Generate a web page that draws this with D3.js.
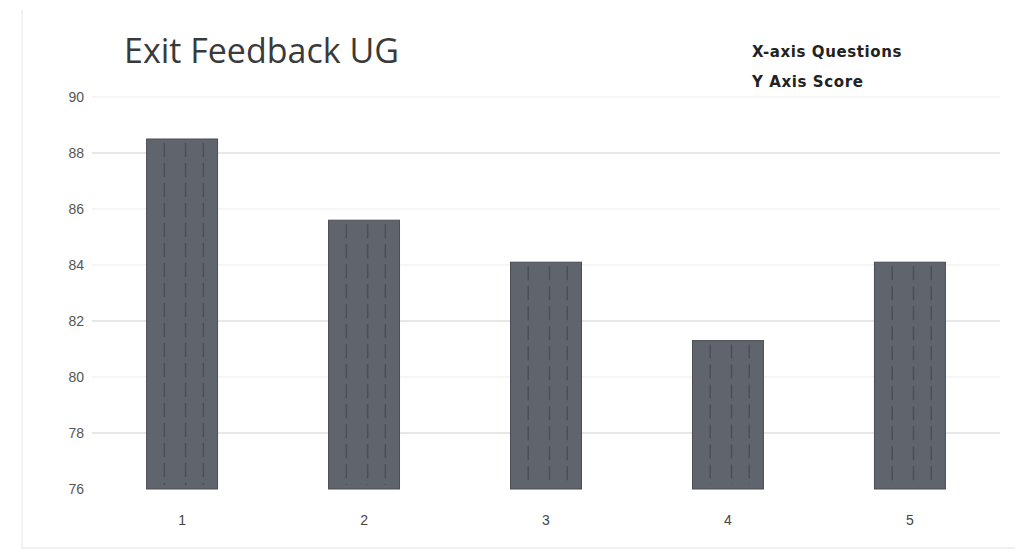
<!DOCTYPE html>
<html><head><meta charset="utf-8">
<script src="https://cdn.jsdelivr.net/npm/d3@7"></script>
<style>body{margin:0;background:#fff}svg{display:block}</style>
</head><body>
<svg id="c" width="1023" height="554"></svg>
<script>
const categories = ["1","2","3","4","5"];
const values = [88.5, 85.6, 84.1, 81.3, 84.1];
const yTicks = [76,78,80,82,84,86,88,90];
const title = "Exit Feedback UG";
const notes = ["X-axis Questions","Y Axis Score"];

const svg = d3.select("#c");
const m = {left:92, right:1000, top:97, bottom:489};
const x = d3.scaleBand().domain(categories).range([m.left, m.right]).paddingInner(0.61).paddingOuter(0.3);
const y = d3.scaleLinear().domain([76,90]).range([m.bottom, m.top]);

// frame
svg.append("line").attr("x1",22).attr("x2",22).attr("y1",10).attr("y2",548).attr("stroke","#e4e4e4");
svg.append("line").attr("x1",22).attr("x2",1015).attr("y1",548).attr("y2",548).attr("stroke","#e4e4e4");

// gridlines
svg.append("g").selectAll("line").data(yTicks.filter(d=>d>76)).join("line")
  .attr("x1",m.left).attr("x2",m.right)
  .attr("y1",d=>y(d)).attr("y2",d=>y(d))
  .attr("stroke",d=> (d===82||d===78||d===88)?"#cfcfcf":"#eeeeee").attr("stroke-width",1.2);

// y axis
const ya = svg.append("g").attr("transform",`translate(${m.left-8},0)`)
  .call(d3.axisLeft(y).tickValues(yTicks).tickSize(0).tickPadding(0));
ya.select(".domain").remove();
ya.selectAll("text").attr("font-family","Liberation Sans, Arial").attr("font-size",14).attr("fill","#555");

// x axis
const xa = svg.append("g").attr("transform",`translate(0,${m.bottom+12})`)
  .call(d3.axisBottom(x).tickSize(0).tickPadding(14));
xa.select(".domain").remove();
xa.selectAll("text").attr("font-family","Liberation Sans, Arial").attr("font-size",14).attr("fill","#444");

// bars
const bars = svg.append("g").selectAll("g").data(values).join("g");
bars.append("rect")
  .attr("x",(d,i)=>x(categories[i])).attr("width",x.bandwidth())
  .attr("y",d=>y(d)).attr("height",d=>y(76)-y(d))
  .attr("fill","#60646d").attr("stroke","#4a4d54").attr("stroke-width",1);
// streak texture
[0.25,0.55,0.8].forEach(f=>{
  bars.append("line")
    .attr("x1",(d,i)=>x(categories[i])+x.bandwidth()*f).attr("x2",(d,i)=>x(categories[i])+x.bandwidth()*f)
    .attr("y1",d=>y(d)+4).attr("y2",y(76)-4)
    .attr("stroke","#3f424a").attr("stroke-width",1.5).attr("stroke-dasharray","14,6").attr("opacity",0.6);
});

// title
svg.append("text").attr("x",124).attr("y",63).text(title)
  .attr("font-family","Open Sans, Liberation Sans").attr("font-size",34).attr("fill","#3a3a3a");

// notes
svg.selectAll("text.note").data(notes).join("text").attr("class","note")
  .attr("x",752).attr("y",(d,i)=>57+i*30).text(d=>d)
  .attr("font-family","DejaVu Sans").attr("font-weight","bold").attr("font-size",15).attr("letter-spacing",0.6).attr("fill","#222");
</script>
</body></html>
